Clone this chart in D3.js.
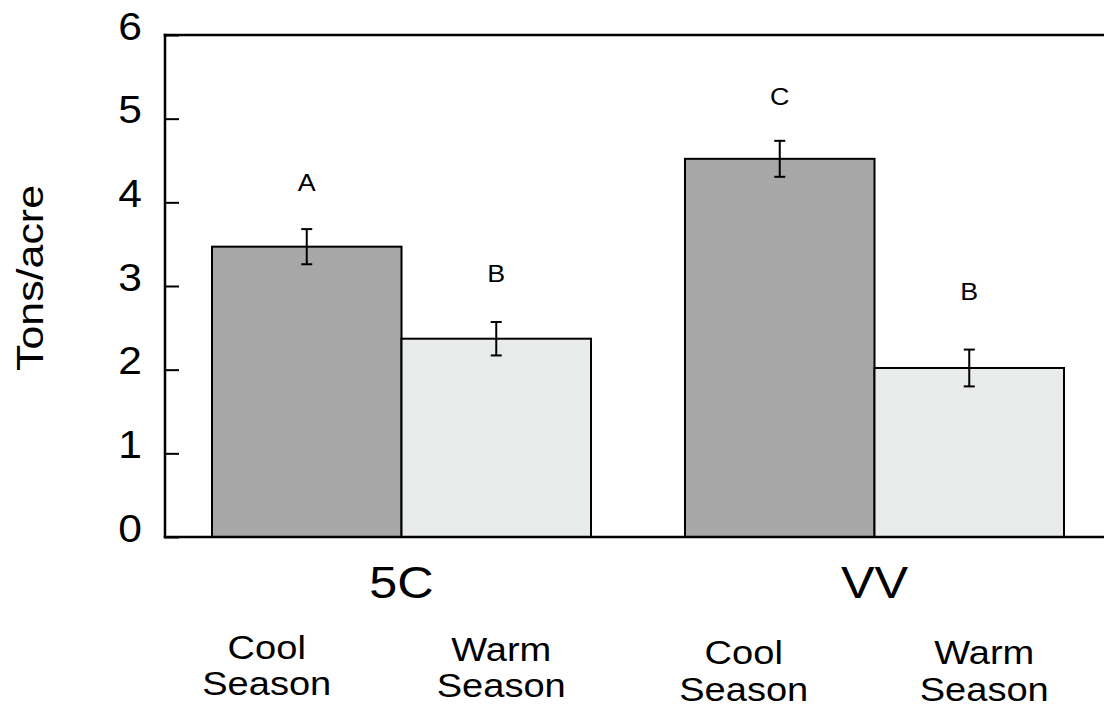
<!DOCTYPE html>
<html>
<head>
<meta charset="utf-8">
<script src="https://cdn.jsdelivr.net/npm/d3@7"></script>
<style>
  html, body { margin: 0; padding: 0; background: #fff; }
  svg { display: block; font-family: "Liberation Sans", Arial, sans-serif; }
</style>
</head>
<body>
<svg id="chart" width="1104" height="710"></svg>
<script>
// Forage yield by site and grass type
const sites = ["5C", "VV"];
const seasons = ["Cool Season", "Warm Season"];
const yieldCool = [3.47, 4.52];      // tons/acre
const yieldWarm = [2.37, 2.02];
const seCool = [0.21, 0.215];
const seWarm = [0.20, 0.22];
const groupLetters = [["A", "B"], ["C", "B"]];
const yTicks = [0, 1, 2, 3, 4, 5, 6];

// layout
const W = 1104, H = 710;
const frame = { left: 165, top: 35, right: 1104, bottom: 537 };
const barSpan = [212, 1064];
const textStretch = 1.12;
const letterLift = [[0.56, 0.58], [0.53, 0.70]];           // gap above error bar, tons/acre
const subLabelDx = [[-40, 5], [-36, 15]];                  // px from bar centre
const subLabelBase = [[[659, 695], [661, 697]], [[664, 701], [664, 701]]];

const svg = d3.select("#chart");

const y = d3.scaleLinear().domain([0, 6]).range([frame.bottom, frame.top]);
const x0 = d3.scaleBand().domain(sites).range(barSpan).paddingInner(0.1987).paddingOuter(0);
const x1 = d3.scaleBand().domain(seasons).range([0, x0.bandwidth()]).padding(0);

const rows = sites.map((s, i) => ({
  site: s,
  bars: [
    { season: seasons[0], value: yieldCool[i], se: seCool[i], letter: groupLetters[i][0], lift: letterLift[i][0], dx: subLabelDx[i][0], base: subLabelBase[i][0] },
    { season: seasons[1], value: yieldWarm[i], se: seWarm[i], letter: groupLetters[i][1], lift: letterLift[i][1], dx: subLabelDx[i][1], base: subLabelBase[i][1] }
  ]
}));

// stippled fills
const defs = svg.append("defs");
function stipple(id, a, b) {
  const p = defs.append("pattern").attr("id", id)
    .attr("width", 2).attr("height", 2).attr("patternUnits", "userSpaceOnUse");
  p.append("rect").attr("width", 2).attr("height", 2).attr("fill", a);
  p.append("rect").attr("width", 1).attr("height", 1).attr("fill", b);
  p.append("rect").attr("x", 1).attr("y", 1).attr("width", 1).attr("height", 1).attr("fill", b);
}
stipple("coolFill", "#aaaaaa", "#a5a5a5");
stipple("warmFill", "#ebecec", "#e8e9e9");
const fills = { "Cool Season": "url(#coolFill)", "Warm Season": "url(#warmFill)" };

// bars
const groups = svg.append("g").selectAll("g").data(rows).join("g")
  .attr("transform", d => `translate(${x0(d.site)},0)`);

groups.selectAll("rect").data(d => d.bars).join("rect")
  .attr("x", d => x1(d.season))
  .attr("y", d => y(d.value))
  .attr("width", x1.bandwidth())
  .attr("height", d => y(0) - y(d.value))
  .attr("fill", d => fills[d.season])
  .attr("stroke", "#000")
  .attr("stroke-width", 2);

// error bars
const err = groups.selectAll("g.err").data(d => d.bars).join("g").attr("class", "err")
  .attr("transform", d => `translate(${x1(d.season) + x1.bandwidth() / 2},0)`)
  .attr("stroke", "#000").attr("stroke-width", 2);
err.append("line").attr("x1", 0).attr("x2", 0)
  .attr("y1", d => y(d.value + d.se)).attr("y2", d => y(d.value - d.se));
err.append("line").attr("x1", -5.5).attr("x2", 5.5)
  .attr("y1", d => y(d.value + d.se)).attr("y2", d => y(d.value + d.se));
err.append("line").attr("x1", -5.5).attr("x2", 5.5)
  .attr("y1", d => y(d.value - d.se)).attr("y2", d => y(d.value - d.se));

// significance letters
groups.selectAll("text.letter").data(d => d.bars).join("text").attr("class", "letter")
  .attr("transform", d => `translate(${x1(d.season) + x1.bandwidth() / 2},${y(d.value + d.se + d.lift) + 9}) scale(${textStretch},1)`)
  .attr("text-anchor", "middle")
  .attr("font-size", 24)
  .text(d => d.letter);

// frame
const fr = svg.append("g").attr("stroke", "#000").attr("stroke-width", 2.5).attr("stroke-linecap", "square");
fr.append("line").attr("x1", frame.left).attr("x2", frame.right).attr("y1", frame.top).attr("y2", frame.top);
fr.append("line").attr("x1", frame.left).attr("x2", frame.right).attr("y1", frame.bottom).attr("y2", frame.bottom);
fr.append("line").attr("x1", frame.left).attr("x2", frame.left).attr("y1", frame.top).attr("y2", frame.bottom);

// y axis, ticks pointing inward
const yAxis = svg.append("g").attr("transform", `translate(${frame.left},0)`)
  .call(d3.axisLeft(y).tickValues(yTicks).tickFormat(d3.format("d")).tickSizeInner(-14).tickSizeOuter(0));
yAxis.select(".domain").remove();
yAxis.selectAll(".tick line").attr("stroke", "#000").attr("stroke-width", 2);
yAxis.selectAll(".tick text")
  .attr("x", 0).attr("dy", null)
  .attr("transform", `translate(-23,4) scale(${textStretch},1)`)
  .attr("font-size", 38)
  .attr("font-family", "Liberation Sans, Arial, sans-serif")
  .attr("fill", "#000");

// y title
svg.append("text")
  .attr("transform", `translate(43,278) rotate(-90) scale(1.16,1)`)
  .attr("text-anchor", "middle")
  .attr("font-size", 37)
  .text("Tons/acre");

// site labels
svg.selectAll("text.site").data(sites).join("text").attr("class", "site")
  .attr("transform", d => `translate(${x0(d) + x0.bandwidth() / 2},598) scale(${textStretch},1)`)
  .attr("text-anchor", "middle")
  .attr("font-size", 45)
  .text(d => d);

// season labels under each bar
const sub = groups.selectAll("g.sub").data(d => d.bars).join("g").attr("class", "sub");
sub.each(function (d) {
  const cx = x1(d.season) + x1.bandwidth() / 2 + d.dx;
  d.season.split(" ").forEach((w, k) => {
    d3.select(this).append("text")
      .attr("transform", `translate(${cx},${d.base[k]}) scale(${textStretch},1)`)
      .attr("text-anchor", "middle")
      .attr("font-size", 34)
      .text(w);
  });
});
</script>
</body>
</html>
